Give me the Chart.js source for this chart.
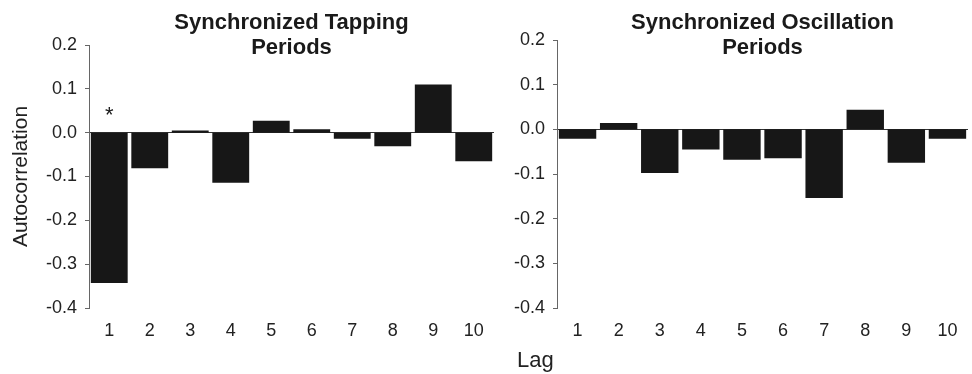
<!DOCTYPE html>
<html>
<head>
<meta charset="utf-8">
<script src="https://cdn.jsdelivr.net/npm/chart.js@4/dist/chart.umd.min.js"></script>
<style>
  html, body { margin: 0; padding: 0; background: #fff; }
  #wrap { position: relative; width: 972px; height: 374px; font-family: "Liberation Sans", Arial, sans-serif; }
  .panel { position: absolute; top: 0; height: 374px; }
  #lag { position: absolute; left: 517px; top: 348px; font-size: 22px; line-height: 24px; color: #222; }
</style>
</head>
<body>
<div id="wrap">
  <div class="panel" style="left:0;width:500px"><canvas id="tapping"></canvas></div>
  <div class="panel" style="left:500px;width:472px"><canvas id="oscillation"></canvas></div>
  <div id="lag">Lag</div>
</div>
<script>
const lags = ['1', '2', '3', '4', '5', '6', '7', '8', '9', '10'];
const tappingValues = [-0.343, -0.081, 0.005, -0.114, 0.027, 0.008, -0.014, -0.031, 0.110, -0.065];
const oscillationValues = [-0.021, 0.014, -0.098, -0.045, -0.068, -0.065, -0.154, 0.044, -0.075, -0.021];
const tappingTitle = ['Synchronized Tapping', 'Periods'];
const oscillationTitle = ['Synchronized Oscillation', 'Periods'];
const significantLags = [0];   // index of lags marked with *
const starValue = 0.024;

const FONT = '"Liberation Sans", Arial, sans-serif';
const BAR = '#171717';
const AXIS = '#666';

// two-line title drawn over the plot area (overlaps the top of the y range)
const panelTitle = {
    id: 'panelTitle',
    afterDraw(chart, args, opts) {
        const { ctx, chartArea } = chart;
        const cx = (chartArea.left + chartArea.right) / 2;
        ctx.save();
        ctx.font = `bold 22px ${FONT}`;
        ctx.fillStyle = '#1a1a1a';
        ctx.textAlign = 'center';
        ctx.textBaseline = 'middle';
        opts.lines.forEach((line, i) => ctx.fillText(line, cx, opts.top + i * 25));
        ctx.restore();
    },
};

// asterisk above significant bars
const starMarks = {
    id: 'starMarks',
    afterDatasetsDraw(chart, args, opts) {
        if (!opts.indices || !opts.indices.length) return;
        const { ctx, scales } = chart;
        ctx.save();
        ctx.font = `22px ${FONT}`;
        ctx.fillStyle = '#1a1a1a';
        ctx.textAlign = 'center';
        ctx.textBaseline = 'alphabetic';
        opts.indices.forEach(i => {
            ctx.fillText('*', scales.x.getPixelForValue(i), scales.y.getPixelForValue(opts.value));
        });
        ctx.restore();
    },
};

function makeChart(canvas, values, title, opts) {
    return new Chart(canvas.getContext('2d'), {
        type: 'bar',
        data: {
            labels: lags,
            datasets: [{
                data: values,
                backgroundColor: BAR,
                borderWidth: 0,
                categoryPercentage: 1,
                barPercentage: 0.91,
            }],
        },
        options: {
            animation: false,
            responsive: true,
            maintainAspectRatio: false,
            layout: { padding: { top: opts.top, right: opts.right, bottom: 0, left: 0 } },
            plugins: {
                legend: { display: false },
                tooltip: { enabled: false },
                panelTitle: { lines: title, top: 23 },
                starMarks: { indices: opts.stars || [], value: starValue },
            },
            scales: {
                x: {
                    grid: { display: false, drawTicks: false },
                    border: { display: false },
                    ticks: { color: '#222', font: { family: FONT, size: 18 }, padding: 12, maxRotation: 0 },
                    afterFit: s => { s.height = 66; },
                },
                y: {
                    min: -0.4,
                    max: 0.2,
                    border: { display: true, color: AXIS, width: 1 },
                    grid: {
                        drawOnChartArea: true,
                        drawTicks: true,
                        tickLength: 4,
                        tickColor: AXIS,
                        color: c => (c.tick && Math.abs(c.tick.value) < 1e-9 ? '#333' : 'rgba(0,0,0,0)'),
                        lineWidth: 1,
                    },
                    ticks: {
                        stepSize: 0.1,
                        color: '#222',
                        padding: 8,
                        font: { family: FONT, size: 18 },
                        callback: v => v.toFixed(1),
                    },
                    title: {
                        display: opts.yTitle,
                        text: 'Autocorrelation',
                        color: '#222',
                        font: { family: FONT, size: 21 },
                        padding: { top: 9, bottom: 0 },
                    },
                    afterFit: s => { s.width = opts.yWidth; },
                },
            },
        },
        plugins: [panelTitle, starMarks],
    });
}

makeChart(document.getElementById('tapping'), tappingValues, tappingTitle,
    { top: 45, right: 6, yWidth: 89, yTitle: true, stars: significantLags });
makeChart(document.getElementById('oscillation'), oscillationValues, oscillationTitle,
    { top: 40, right: 4, yWidth: 57, yTitle: false });
</script>
</body>
</html>
